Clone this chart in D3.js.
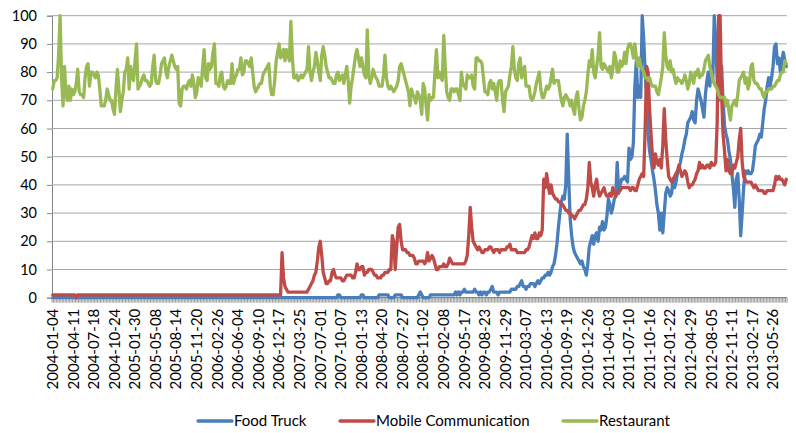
<!DOCTYPE html>
<html><head><meta charset="utf-8">
<script src="https://cdn.jsdelivr.net/npm/d3@7"></script>
<style>body{margin:0;background:#fff} text{font-family:Lato, "Liberation Sans", sans-serif; fill:#000}</style>
</head><body><svg id="c" width="796" height="433"></svg>
<script>
// ---------- data ----------
const startDate = "2004-01-04";
const weekCount = 500;
const tickLabels = ["2004-01-04","2004-04-11","2004-07-18","2004-10-24","2005-01-30","2005-05-08","2005-08-14","2005-11-20","2006-02-26","2006-06-04","2006-09-10","2006-12-17","2007-03-25","2007-07-01","2007-10-07","2008-01-13","2008-04-20","2008-07-27","2008-11-02","2009-02-08","2009-05-17","2009-08-23","2009-11-29","2010-03-07","2010-06-13","2010-09-19","2010-12-26","2011-04-03","2011-07-10","2011-10-16","2012-01-22","2012-04-29","2012-08-05","2012-11-11","2013-02-17","2013-05-26"];
const yTicks = [0,10,20,30,40,50,60,70,80,90,100];
const seriesNames = ["Food Truck","Mobile Communication","Restaurant"];
const seriesColors = ["#4A7EBB","#BE4B48","#98B954"];

const foodTruck = [
0,0,0,0,0,0,0,0,0,0,0,0,0,0,0,0,0,0,0,0,
0,0,0,0,0,0,0,0,0,0,0,0,0,0,0,0,0,0,0,0,
0,0,0,0,0,0,0,0,0,0,0,0,0,0,0,0,0,0,0,0,
0,0,0,0,0,0,0,0,0,0,0,0,0,0,0,0,0,0,0,0,
0,0,0,0,0,0,0,0,0,0,0,0,0,0,0,0,0,0,0,0,
0,0,0,0,0,0,0,0,0,0,0,0,0,0,0,0,0,0,0,0,
0,0,0,0,0,0,0,0,0,0,0,0,0,0,0,0,0,0,0,0,
0,0,0,0,0,0,0,0,0,0,0,0,0,0,0,0,0,0,0,0,
0,0,0,0,0,0,0,0,0,0,0,0,0,0,0,0,0,0,0,0,
0,0,0,0,0,0,0,0,0,0,0,0,0,0,1,1,0,0,0,0,
0,0,0,0,0,0,0,0,0,0,1,1,0,0,0,0,0,0,0,0,
0,0,1,1,1,1,1,1,1,0,0,0,0,1,1,1,1,1,0,0,
0,0,0,0,0,0,0,0,0,1,2,1,0,0,0,0,0,1,1,1,
1,1,1,1,1,1,1,1,1,1,1,1,1,1,2,1,2,1,2,2,
3,2,2,2,2,2,2,3,2,2,1,2,1,2,2,1,2,2,3,4,
2,2,2,1,2,2,2,2,2,2,2,2,3,3,3,3,4,4,5,6,
4,4,3,4,4,5,5,5,4,5,6,5,6,7,7,8,8,9,8,9,
11,12,15,19,25,30,34,36,35,40,58,42,28,22,18,16,15,14,13,12,
13,11,10,8,12,18,20,22,19,22,23,20,25,24,27,24,25,29,35,33,
30,32,35,36,48,37,40,42,42,43,42,41,53,49,50,55,75,84,71,75,
71,100,92,80,72,58,52,49,45,42,38,33,30,24,30,23,30,37,39,38,
36,37,42,39,41,44,46,48,51,53,56,58,62,63,64,66,63,62,70,74,
72,70,67,64,72,77,80,75,82,77,100,92,77,70,75,82,70,61,58,56,
52,49,44,39,32,42,44,35,22,30,39,45,44,45,44,44,45,49,54,55,
56,58,57,62,67,70,75,78,75,78,82,89,90,83,85,80,84,87,84,82
];

const mobileCommunication = [
1,1,1,1,1,1,1,1,1,1,1,1,1,1,1,1,0,1,1,1,
1,1,1,1,1,1,1,1,1,1,1,1,1,1,1,1,1,1,1,1,
1,1,1,1,1,1,1,1,1,1,1,1,1,1,1,1,1,1,1,1,
1,1,1,1,1,1,1,1,1,1,1,1,1,1,1,1,1,1,1,1,
1,1,1,1,1,1,1,1,1,1,1,1,1,1,1,1,1,1,1,1,
1,1,1,1,1,1,1,1,1,1,1,1,1,1,1,1,1,1,1,1,
1,1,1,1,1,1,1,1,1,1,1,1,1,1,1,1,1,1,1,1,
1,1,1,1,1,1,1,1,1,1,1,1,1,1,1,1,16,7,4,3,
2,2,2,2,2,2,2,2,2,2,2,2,2,2,3,4,5,6,8,9,
13,18,20,15,9,7,5,5,6,6,9,10,8,7,7,7,7,6,6,7,
8,8,8,8,7,7,9,12,10,10,11,11,8,9,9,10,10,10,9,8,
8,7,7,7,8,8,9,9,9,10,10,22,20,10,18,25,26,20,17,17,
17,16,16,15,15,15,14,12,12,13,13,13,13,12,13,16,13,14,15,14,
12,10,10,11,11,11,12,11,11,12,14,13,12,12,12,12,12,12,12,12,
12,13,15,22,32,25,20,19,18,17,18,17,16,16,17,17,17,18,18,17,
16,17,17,17,16,17,17,17,17,18,18,19,17,17,17,17,16,16,16,16,
16,16,17,17,18,20,22,21,23,21,21,23,22,24,42,39,44,40,37,40,
37,36,35,35,34,34,33,33,32,31,31,30,30,29,29,28,29,30,31,31,
32,33,33,35,39,48,41,39,36,40,42,38,36,37,38,39,37,36,36,37,
36,39,37,36,37,38,38,39,39,39,39,39,39,38,39,39,38,38,40,42,
43,44,43,60,82,80,67,58,50,46,51,48,47,49,46,54,67,56,49,43,
42,41,42,43,44,45,47,45,43,44,45,44,41,39,40,40,41,42,44,45,
48,46,47,46,46,47,47,46,48,47,47,48,62,100,100,72,58,52,45,49,
45,44,44,47,46,48,50,56,60,48,43,42,41,41,41,41,40,39,40,39,
38,38,38,38,37,37,38,38,38,38,38,40,43,42,43,42,42,41,40,42
];

const restaurant = [
74,77,77,78,86,100,78,68,82,72,70,75,70,74,72,73,76,81,73,72,
72,71,78,82,83,75,80,80,79,78,80,79,74,68,68,68,70,74,72,70,
70,67,65,74,81,74,66,70,73,80,81,85,74,82,79,77,84,90,74,75,
76,78,79,77,77,76,75,76,82,86,77,76,76,79,83,84,85,80,78,82,
84,86,84,82,81,82,69,68,74,75,75,74,76,77,75,79,76,71,73,78,
77,75,82,88,78,77,83,81,82,87,90,76,76,75,79,80,75,74,75,77,
76,76,83,76,78,79,81,81,85,79,80,84,84,83,82,85,80,75,73,74,
75,76,76,79,80,81,82,83,75,72,72,77,84,87,90,85,86,88,84,88,
86,84,98,85,78,78,79,77,78,79,78,79,80,81,89,80,77,80,82,87,
84,80,77,86,89,86,82,80,78,78,77,76,76,79,80,77,78,79,76,79,
82,77,69,75,78,82,86,88,85,82,85,82,79,78,95,79,76,78,81,79,
78,77,75,75,75,79,86,78,75,74,75,74,73,74,75,77,82,83,81,79,
77,75,73,68,74,72,71,69,73,72,70,65,76,74,68,63,72,70,71,71,
80,88,78,80,78,77,93,82,73,71,70,74,74,73,74,74,72,70,80,76,
75,74,79,78,78,79,75,74,85,85,84,84,83,78,73,73,72,76,77,74,
76,73,70,76,77,77,70,66,73,74,75,79,82,89,81,78,77,83,85,78,
80,82,75,75,75,71,70,71,73,76,78,80,74,71,71,73,75,74,75,78,
81,76,77,77,77,73,70,68,71,72,71,70,68,70,67,65,71,73,67,63,
64,68,70,73,79,84,82,88,80,78,82,86,94,82,81,83,82,81,80,82,
78,81,87,85,80,80,84,82,83,87,83,88,90,90,88,85,90,85,82,85,
82,81,80,78,78,77,78,76,75,75,75,73,72,75,78,82,94,86,82,81,
84,80,81,78,76,78,77,77,76,77,79,77,74,76,80,78,76,80,79,81,
78,79,79,81,84,85,86,82,80,77,76,75,74,72,71,71,71,71,68,70,
66,63,68,69,70,68,72,77,78,79,80,76,78,74,76,82,83,77,76,76,
75,74,74,72,71,73,73,74,74,74,75,75,76,77,77,79,80,80,84,83
];

// ---------- chart ----------
const svg = d3.select("#c");
const L = 52, R = 787, T = 15.7, B = 297.7;
const parse = d3.utcParse("%Y-%m-%d"), fmt = d3.utcFormat("%Y-%m-%d");
const start = parse(startDate);
const categories = d3.range(weekCount).map(i => fmt(d3.utcDay.offset(start, 7 * i)));

const xBand = d3.scaleBand().domain(categories).range([L, R]);
const x = d3.scalePoint().domain(categories).range([L, R]).padding(0.5);
const y = d3.scaleLinear().domain([0, 100]).range([B, T]);

const axisColor = "#868686", gridColor = "#A6A6A6";

// gridlines + y axis
const yAxis = d3.axisLeft(y).tickValues(yTicks).tickSize(5).tickPadding(10);
const gy = svg.append("g").attr("transform", `translate(${L},0)`).call(yAxis);
gy.select(".domain").attr("stroke", axisColor);
gy.selectAll(".tick line").attr("stroke", axisColor);
gy.selectAll(".tick text").style("font-size", "14.5px").attr("fill", "#000");
svg.append("g").selectAll("line").data(yTicks.filter(v => v > 0)).join("line")
  .attr("x1", L).attr("x2", R).attr("y1", d => y(d)).attr("y2", d => y(d))
  .attr("stroke", gridColor).attr("stroke-width", 1);

// x axis: tick marks at every category boundary
const gx = svg.append("g").attr("transform", `translate(0,${B})`);
gx.append("line").attr("x1", L).attr("x2", R).attr("stroke", axisColor).attr("stroke-width", 1.2);
gx.selectAll("line.tk").data(categories.concat(["__end"])).join("line").attr("class", "tk")
  .attr("x1", d => d === "__end" ? R : xBand(d)).attr("x2", d => d === "__end" ? R : xBand(d))
  .attr("y1", 0).attr("y2", 5).attr("stroke", axisColor).attr("stroke-width", 0.8);

// x labels
svg.append("g").selectAll("text").data(tickLabels).join("text")
  .attr("transform", d => `translate(${x(d)},${B + 11}) rotate(-90)`)
  .attr("text-anchor", "end").attr("dy", "0.35em")
  .style("font-size", "15px").text(d => d);

// lines
const seriesData = [foodTruck, mobileCommunication, restaurant];
const line = d3.line().x((d, i) => x(categories[i])).y(d => y(d));
seriesData.forEach((s, k) => {
  svg.append("path").datum(s).attr("d", line).attr("fill", "none")
    .attr("stroke", seriesColors[k]).attr("stroke-width", 3.3)
    .attr("stroke-linejoin", "round").attr("stroke-linecap", "round");
});

// legend
const legendX = [198, 340, 563];
const lg = svg.append("g").attr("transform", "translate(0,421)");
seriesNames.forEach((n, k) => {
  lg.append("line").attr("x1", legendX[k]).attr("x2", legendX[k] + 34)
    .attr("stroke", seriesColors[k]).attr("stroke-width", 3.3).attr("stroke-linecap", "round");
  lg.append("text").attr("x", legendX[k] + 36).attr("dy", "0.35em")
    .style("font-size", "15px").text(n);
});
</script></body></html>
